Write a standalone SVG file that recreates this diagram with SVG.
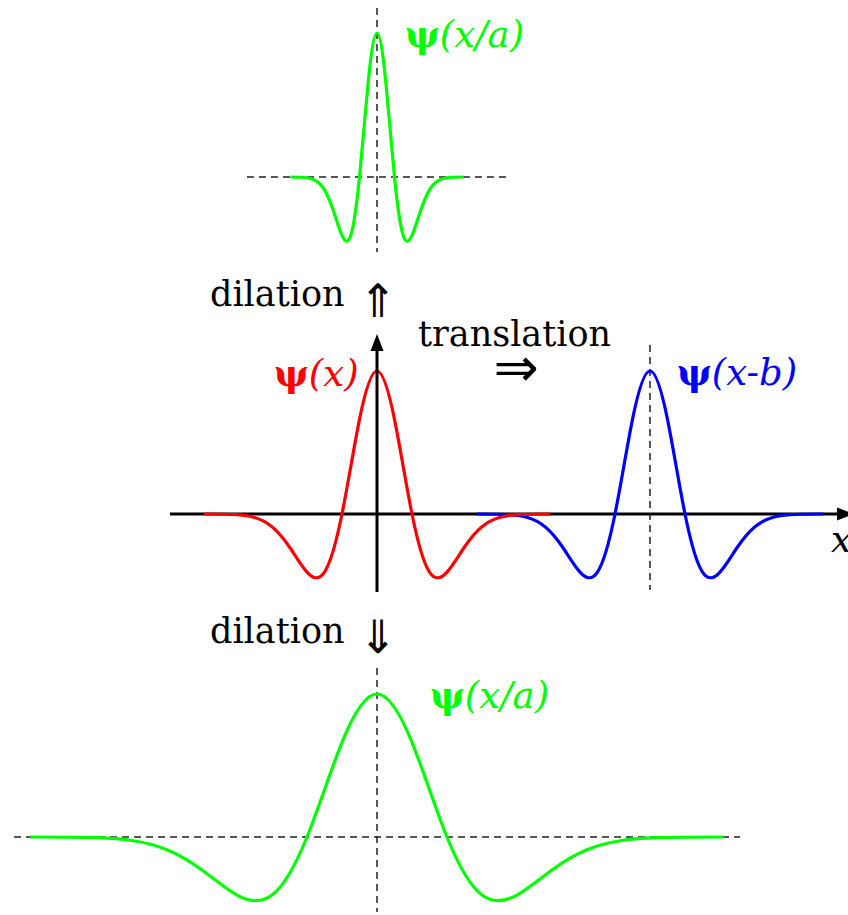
<svg xmlns="http://www.w3.org/2000/svg" width="848" height="915" viewBox="0 0 848 915">
<style>
.lbl{font-family:"DejaVu Serif",serif;font-size:35px;fill:#000}
.math{font-family:"DejaVu Serif",serif;font-size:37px;font-style:italic}
.psi{font-style:normal;font-weight:bold}
.arr{font-family:"DejaVu Sans",sans-serif;fill:#000}
.dash{stroke:#222;stroke-width:1.5;stroke-dasharray:7 5;fill:none}
.curve{fill:none;stroke-width:3.2;vector-effect:non-scaling-stroke;stroke-linejoin:round}
.axis{stroke:#000;stroke-width:3;fill:none}
</style>
<defs>
<marker id="ah" markerUnits="userSpaceOnUse" markerWidth="18" markerHeight="14" refX="1" refY="7" orient="auto">
<path d="M0,0.5 L17,7 L0,13.5 z" fill="#000"/>
</marker>
</defs>

<g id="top-wavelet">
<line class="dash" x1="247" y1="177" x2="507" y2="177"/>
<line class="dash" x1="377" y1="8" x2="377" y2="252"/>
<path class="curve" stroke="#00ff00" transform="translate(377,177) scale(17.5,144)" d="M -4.95,0 C -4.6333,0 -4.3167,0 -4,0.0050 C -3.8333,0.0079 -3.6667,0.0128 -3.5,0.0246 C -3.3333,0.0364 -3.1667,0.0556 -3,0.0889 C -2.8333,0.1222 -2.6667,0.1712 -2.5,0.2307 C -2.3333,0.2902 -2.1667,0.3609 -2,0.4060 C -1.8333,0.4511 -1.6667,0.4667 -1.5,0.4058 C -1.3333,0.3449 -1.1667,0.2022 -1,0 C -0.8333,-0.2022 -0.6667,-0.4597 -0.5,-0.6619 C -0.3333,-0.8641 -0.1667,-1 0,-1 C 0.1667,-1 0.3333,-0.8641 0.5,-0.6619 C 0.6667,-0.4597 0.8333,-0.2022 1,0 C 1.1667,0.2022 1.3333,0.3449 1.5,0.4058 C 1.6667,0.4667 1.8333,0.4511 2,0.4060 C 2.1667,0.3609 2.3333,0.2902 2.5,0.2307 C 2.6667,0.1712 2.8333,0.1222 3,0.0889 C 3.1667,0.0556 3.3333,0.0364 3.5,0.0246 C 3.6667,0.0128 3.8333,0.0079 4,0.0050 C 4.3167,0 4.6333,0 4.95,0"/>
<text class="math" x="405" y="47" fill="#00ff00"><tspan class="psi">ψ</tspan>(x/a)</text>
</g>

<g id="dilation-up">
<text class="lbl" x="210" y="306">dilation</text>
<text class="arr" x="378" y="317" font-size="46" text-anchor="middle">⇑</text>
</g>

<g id="translation">
<text class="lbl" x="418" y="346">translation</text>
<text class="arr" x="516" y="386" font-size="54" text-anchor="middle">⇒</text>
</g>

<g id="connectors">
<line class="axis" x1="170" y1="514" x2="838" y2="514" marker-end="url(#ah)"/>
</g>

<g id="blue-wavelet">
<line class="dash" x1="650" y1="345" x2="650" y2="590"/>
<path class="curve" stroke="#0000ff" transform="translate(650,514) scale(35,143)" d="M -4.95,0 C -4.6333,0 -4.3167,0 -4,0.0050 C -3.8333,0.0079 -3.6667,0.0128 -3.5,0.0246 C -3.3333,0.0364 -3.1667,0.0556 -3,0.0889 C -2.8333,0.1222 -2.6667,0.1712 -2.5,0.2307 C -2.3333,0.2902 -2.1667,0.3609 -2,0.4060 C -1.8333,0.4511 -1.6667,0.4667 -1.5,0.4058 C -1.3333,0.3449 -1.1667,0.2022 -1,0 C -0.8333,-0.2022 -0.6667,-0.4597 -0.5,-0.6619 C -0.3333,-0.8641 -0.1667,-1 0,-1 C 0.1667,-1 0.3333,-0.8641 0.5,-0.6619 C 0.6667,-0.4597 0.8333,-0.2022 1,0 C 1.1667,0.2022 1.3333,0.3449 1.5,0.4058 C 1.6667,0.4667 1.8333,0.4511 2,0.4060 C 2.1667,0.3609 2.3333,0.2902 2.5,0.2307 C 2.6667,0.1712 2.8333,0.1222 3,0.0889 C 3.1667,0.0556 3.3333,0.0364 3.5,0.0246 C 3.6667,0.0128 3.8333,0.0079 4,0.0050 C 4.3167,0 4.6333,0 4.95,0"/>
<text class="math" x="677" y="385" fill="#0000ff"><tspan class="psi">ψ</tspan>(x-b)</text>
</g>

<g id="red-wavelet">
<path class="curve" stroke="#ff0000" transform="translate(377,514) scale(35,143)" d="M -4.95,0 C -4.6333,0 -4.3167,0 -4,0.0050 C -3.8333,0.0079 -3.6667,0.0128 -3.5,0.0246 C -3.3333,0.0364 -3.1667,0.0556 -3,0.0889 C -2.8333,0.1222 -2.6667,0.1712 -2.5,0.2307 C -2.3333,0.2902 -2.1667,0.3609 -2,0.4060 C -1.8333,0.4511 -1.6667,0.4667 -1.5,0.4058 C -1.3333,0.3449 -1.1667,0.2022 -1,0 C -0.8333,-0.2022 -0.6667,-0.4597 -0.5,-0.6619 C -0.3333,-0.8641 -0.1667,-1 0,-1 C 0.1667,-1 0.3333,-0.8641 0.5,-0.6619 C 0.6667,-0.4597 0.8333,-0.2022 1,0 C 1.1667,0.2022 1.3333,0.3449 1.5,0.4058 C 1.6667,0.4667 1.8333,0.4511 2,0.4060 C 2.1667,0.3609 2.3333,0.2902 2.5,0.2307 C 2.6667,0.1712 2.8333,0.1222 3,0.0889 C 3.1667,0.0556 3.3333,0.0364 3.5,0.0246 C 3.6667,0.0128 3.8333,0.0079 4,0.0050 C 4.3167,0 4.6333,0 4.95,0"/>
<text class="math" x="274" y="386" fill="#ff0000"><tspan class="psi">ψ</tspan>(x)</text>
</g>

<g id="y-axis">
<line class="axis" x1="377" y1="592" x2="377" y2="350" marker-end="url(#ah)"/>
<text class="math" x="831" y="552" fill="#000">x</text>
</g>

<g id="dilation-down">
<text class="lbl" x="210" y="643">dilation</text>
<text class="arr" x="378" y="653" font-size="46" text-anchor="middle">⇓</text>
</g>

<g id="bottom-wavelet">
<line class="dash" x1="14" y1="837" x2="740" y2="837"/>
<line class="dash" x1="377" y1="668" x2="377" y2="912"/>
<path class="curve" stroke="#00ff00" transform="translate(377,837) scale(70,143)" d="M -4.95,0 C -4.6333,0 -4.3167,0 -4,0.0050 C -3.8333,0.0079 -3.6667,0.0128 -3.5,0.0246 C -3.3333,0.0364 -3.1667,0.0556 -3,0.0889 C -2.8333,0.1222 -2.6667,0.1712 -2.5,0.2307 C -2.3333,0.2902 -2.1667,0.3609 -2,0.4060 C -1.8333,0.4511 -1.6667,0.4667 -1.5,0.4058 C -1.3333,0.3449 -1.1667,0.2022 -1,0 C -0.8333,-0.2022 -0.6667,-0.4597 -0.5,-0.6619 C -0.3333,-0.8641 -0.1667,-1 0,-1 C 0.1667,-1 0.3333,-0.8641 0.5,-0.6619 C 0.6667,-0.4597 0.8333,-0.2022 1,0 C 1.1667,0.2022 1.3333,0.3449 1.5,0.4058 C 1.6667,0.4667 1.8333,0.4511 2,0.4060 C 2.1667,0.3609 2.3333,0.2902 2.5,0.2307 C 2.6667,0.1712 2.8333,0.1222 3,0.0889 C 3.1667,0.0556 3.3333,0.0364 3.5,0.0246 C 3.6667,0.0128 3.8333,0.0079 4,0.0050 C 4.3167,0 4.6333,0 4.95,0"/>
<text class="math" x="430" y="708" fill="#00ff00"><tspan class="psi">ψ</tspan>(x/a)</text>
</g>
</svg>
